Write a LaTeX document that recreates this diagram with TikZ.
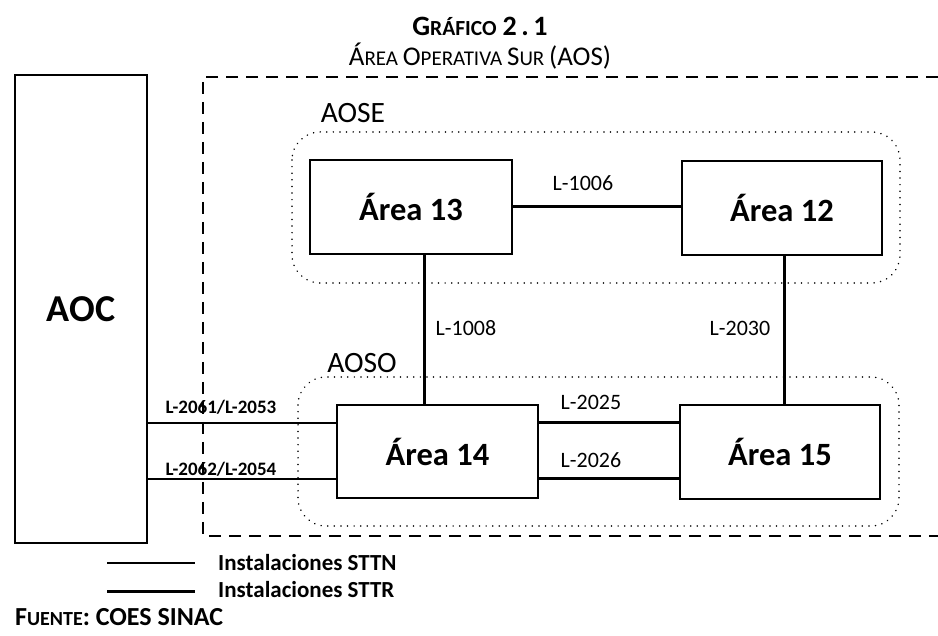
\documentclass[tikz,border=0pt]{standalone}
\usepackage{fontspec}
\setmainfont{Carlito}
% font size helpers (1pt = 1 unit of the picture)
\newcommand\fsz[1]{\fontsize{#1}{#1}\selectfont}
\begin{document}
\begin{tikzpicture}[x=1pt,y=-1pt,
  area/.style={draw, line width=2pt, minimum width=200pt, minimum height=94pt,
    inner sep=0pt, font=\fsz{32.5}\bfseries},
  link/.style={line width=3pt},
  feed/.style={line width=2.4pt},
  lbl/.style={font=\fsz{22}, inner sep=0pt},
  feedlbl/.style={font=\fsz{19}\bfseries, inner sep=0pt},
  group/.style={draw, line width=1.6pt, line cap=round, dash pattern=on 0.1pt off 6.5pt, rounded corners=28pt},
  grouplbl/.style={font=\fsz{29.5}, inner sep=0pt},
  outer/.style={line width=2.4pt, dash pattern=on 12pt off 8pt},
  legtxt/.style={font=\fsz{23}\bfseries, anchor=west, inner sep=0pt}]
\useasboundingbox (0,0) rectangle (938,636);

% heading
\node[inner sep=0pt, font=\bfseries] (title) at (480,26)
  {\fsz{28}G\fsz{21.5}RÁFICO\hspace{6pt}\fsz{28}2\hspace{4.5pt}.\hspace{4.5pt}1};
\node[inner sep=0pt] (subtitle) at (480,56)
  {\fsz{27}Á\fsz{21}REA \fsz{27}O\fsz{21}PERATIVA \fsz{27}S\fsz{21}UR \fsz{27}(AOS)};

% south operating area frame
\draw[outer] (938,77) -- (203,77) -- (203,536) -- (938,536);

% sub-area groups
\draw[group] (292,132) rectangle (900,283);
\draw[group] (298,377) rectangle (899,526);
\node[grouplbl] (aose) at (353,113) {AOSE};
\node[grouplbl] (aoso) at (362,363) {AOSO};

% areas
\node[draw, line width=2pt, minimum width=132pt, minimum height=468pt, inner sep=0pt,
  font=\fsz{38}\bfseries] (aoc) at (81,309) {AOC};
\node[area, minimum width=202pt] (a13) at (411,207) {Área 13};
\node[area] (a12) at (782,208) {Área 12};
\node[area, minimum width=201pt, minimum height=93pt] (a14) at (437.5,451.5) {Área 14};
\node[area] (a15) at (780,452) {Área 15};

% line positions
\coordinate (v1) at (424,0);
\coordinate (v2) at (784,0);
\coordinate (h1) at (0,423);
\coordinate (h2) at (0,479);

% transmission lines
\draw[link] (a13.east) -- (a13.east -| a12.west);
\draw[link] (a13.south -| v1) -- (a14.north -| v1);
\draw[link] (a12.south -| v2) -- (a15.north -| v2);
\draw[link] (a14.east |- h1) -- (a15.west |- h1);
\draw[link] (a14.east |- h2) -- (a15.west |- h2);
\draw[feed] (aoc.east |- h1) -- (a14.west |- h1);
\draw[feed] (aoc.east |- h2) -- (a14.west |- h2);

% line labels
\node[lbl] (l1006) at (583,183) {L-1006};
\node[lbl] (l1008) at (466,328) {L-1008};
\node[lbl] (l2030) at (740,328) {L-2030};
\node[lbl] (l2025) at (591,402) {L-2025};
\node[lbl] (l2026) at (591,460) {L-2026};
\node[feedlbl] (l2061) at (221,407) {L-2061/L-2053};
\node[feedlbl] (l2062) at (221,469) {L-2062/L-2054};

% legend
\coordinate (k1a) at (107,563);
\coordinate (k1b) at (195,563);
\coordinate (k2a) at (107,591);
\coordinate (k2b) at (195,591);
\draw[line width=2pt] (k1a) -- (k1b);
\draw[line width=3pt] (k2a) -- (k2b);
\node[legtxt] (sttn) at (218,563) {Instalaciones STTN};
\node[legtxt] (sttr) at (218,590) {Instalaciones STTR};

% source
\node[inner sep=0pt, anchor=west, font=\bfseries] (source) at (15,617)
  {\fsz{26}F\fsz{20}UENTE\fsz{26}: COES SINAC};
\end{tikzpicture}
\end{document}
